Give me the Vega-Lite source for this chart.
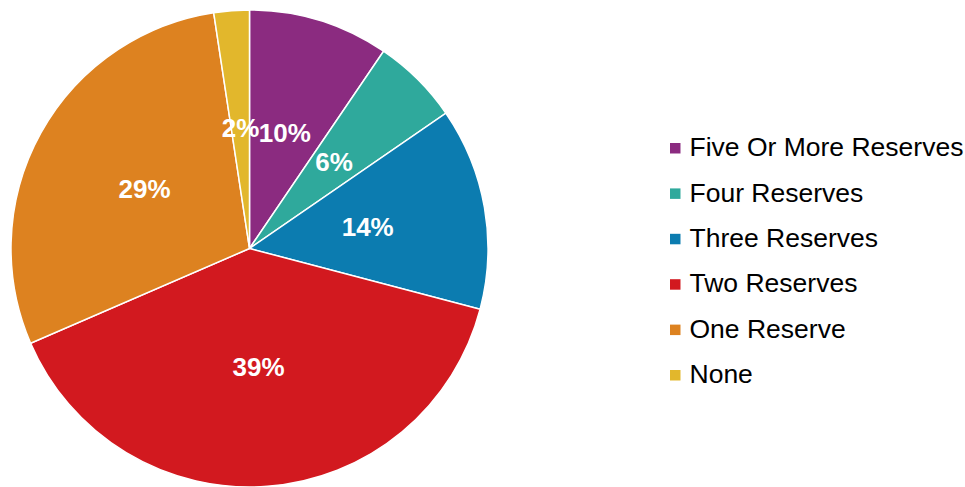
{
  "$schema": "https://vega.github.io/schema/vega-lite/v6.json",
  "width": 499,
  "height": 477,
  "autosize": {"type": "none"},
  "padding": {"left": 0, "top": 10, "right": 466, "bottom": 0},
  "background": "white",
  "config": {"view": {"stroke": null}},
  "data": {
    "values": [
      {"category": "Five Or More Reserves", "value": 9.5, "label": "10%", "idx": 1},
      {"category": "Four Reserves", "value": 5.9, "label": "6%", "idx": 2},
      {"category": "Three Reserves", "value": 13.7, "label": "14%", "idx": 3},
      {"category": "Two Reserves", "value": 39.4, "label": "39%", "idx": 4},
      {"category": "One Reserve", "value": 29.1, "label": "29%", "idx": 5},
      {"category": "None", "value": 2.4, "label": "2%", "idx": 6}
    ]
  },
  "encoding": {
    "theta": {"field": "value", "type": "quantitative", "stack": true},
    "order": {"field": "idx", "type": "quantitative"}
  },
  "layer": [
    {
      "mark": {"type": "arc", "outerRadius": 238.5, "stroke": "white", "strokeWidth": 1.5},
      "encoding": {
        "color": {
          "field": "category",
          "type": "nominal",
          "sort": null,
          "scale": {
            "domain": ["Five Or More Reserves", "Four Reserves", "Three Reserves", "Two Reserves", "One Reserve", "None"],
            "range": ["#8B2B80", "#2FA99C", "#0C7CB0", "#D2191F", "#DD8220", "#E2B72C"]
          },
          "legend": {
            "title": null,
            "orient": "none",
            "legendX": 662,
            "legendY": 125,
            "symbolType": "square",
            "symbolSize": 110,
            "symbolStrokeWidth": 0,
            "labelFont": "Liberation Sans, Arial, sans-serif",
            "labelFontSize": 26.5,
            "labelColor": "#000000",
            "labelOffset": 1,
            "rowPadding": 18.4,
            "labelLimit": 400
          }
        }
      }
    },
    {
      "mark": {"type": "text", "radius": 120, "font": "Liberation Sans, Arial, sans-serif", "fontSize": 26, "fontWeight": "bold", "fill": "white"},
      "encoding": {
        "text": {"field": "label", "type": "nominal"}
      }
    }
  ]
}
